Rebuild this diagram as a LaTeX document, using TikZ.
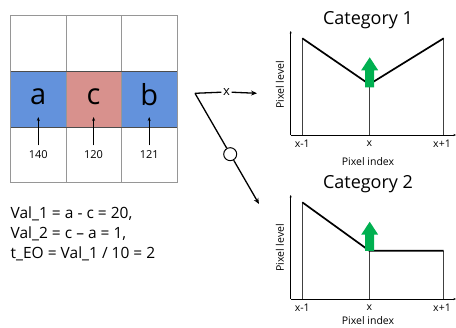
\documentclass[tikz,border=0pt]{standalone}
\usepackage{fontspec}
\setmainfont{Open Sans}
\usetikzlibrary{arrows.meta,calc}
\definecolor{cellblue}{RGB}{99,146,220}
\definecolor{cellred}{RGB}{216,145,141}
\definecolor{upgreen}{RGB}{0,176,80}
\definecolor{gridgray}{RGB}{150,150,150}

\tikzset{
  cellletter/.style={font=\fontsize{29}{29}\selectfont, inner sep=1pt},
  cellvalue/.style={font=\fontsize{11}{11}\selectfont, inner sep=1pt},
  cattitle/.style={font=\fontsize{18}{18}\selectfont},
  ticklabel/.style={font=\fontsize{10.5}{10.5}\selectfont},
  axislabel/.style={font=\fontsize{10.5}{10.5}\selectfont},
  axis/.style={line width=0.9pt, -{Stealth[length=2.5pt,width=2pt]}},
  guide/.style={line width=0.7pt, black!75},
  plotline/.style={line width=1.7pt},
  flow/.style={line width=1.3pt},
}
% green up arrow: centre x, bottom y, top y
\newcommand{\greenup}[3]{%
  \fill[upgreen] (#1-4.5,#2) -- (#1+4.5,#2) -- (#1+4.5,#3+13) -- (#1+8.5,#3+13)
    -- (#1,#3) -- (#1-8.5,#3+13) -- (#1-4.5,#3+13) -- cycle;}

\begin{document}
\begin{tikzpicture}[x=1pt,y=-1pt]
\useasboundingbox (0,0) rectangle (456,328);
% Cells
\fill[cellblue] (10.7,71.3) rectangle (66,127.3);
\fill[cellred] (66,71.3) rectangle (121.3,127.3);
\fill[cellblue] (121.3,71.3) rectangle (177,127.3);
\draw[gridgray, line width=0.8pt] (10.7,15.3) rectangle (177,182.7);
\foreach \gx in {66,121.3}
  \draw[gridgray, line width=0.8pt] (\gx,15.3) -- (\gx,182.7);
\draw[black!70, line width=0.8pt] (10.7,71.3) -- (177,71.3);
\draw[black!70, line width=0.8pt] (10.7,127.3) -- (177,127.3);
% Letters and values
\node[cellletter] (a) at (38.3,97) {a};
\node[cellletter] (c) at (93.6,97) {c};
\node[cellletter] (b) at (149.2,95) {b};
\node[cellvalue] (va) at (38.3,154.5) {140};
\node[cellvalue] (vc) at (93.6,154.5) {120};
\node[cellvalue] (vb) at (149.2,154.5) {121};
\foreach \v/\p in {va/a, vc/c, vb/b}
  \draw[line width=0.9pt, -{Stealth[length=4pt,width=3pt]}, shorten <=4pt]
    (\v.north) -- (\v.north |- 0,117);
% Equations
\node[anchor=north west, align=left, inner sep=0pt,
  font=\fontsize{15.5}{19.7}\selectfont] (eq) at (10.5,207)
  {Val\_1 = a - c = 20,\\ Val\_2 = c -- a = 1,\\ t\_EO = Val\_1 / 10 = 2};
% Split
\coordinate (split) at (195,93.3);
\coordinate (tip1) at (257,93.3);
\coordinate (tip2) at (259,204);
\node[font=\fontsize{13}{13}\selectfont, inner sep=1.5pt] (sx) at (226.5,92) {x};
\node[draw, circle, line width=1pt, minimum size=13pt, inner sep=0pt]
  (so) at ($(split)!0.55!(tip2)$) {};
\draw[flow] (split) -- (sx);
\draw[flow, -{Stealth[length=6pt,width=5pt]}] (sx) -- (tip1);
\draw[flow] (split) -- (so);
\draw[flow, -{Stealth[length=6pt,width=5pt]}] (so) -- (tip2);
% Category 1
\node[cattitle] (t1) at (368,20) {Category 1};
\draw[axis] (290.7,135) -- (456,135);
\draw[axis] (290.7,135) -- (290.7,31);
\draw[guide] (302.3,135) -- (302.3,38.3);
\draw[guide] (369.3,135) -- (369.3,84.3);
\draw[guide] (443.7,135) -- (443.7,38.3);
\draw[plotline] (302.3,38.3) -- (369.3,84.3) -- (443.7,38.3);
\greenup{369.7}{87.3}{57.3}
\node[ticklabel] (l1a) at (302.3,144) {x-1};
\node[ticklabel] (l1b) at (369.3,144) {x};
\node[ticklabel] (l1c) at (442,144) {x+1};
\node[axislabel] (ix1) at (368,161.7) {Pixel index};
\node[axislabel, rotate=90] (lv1) at (280,85) {Pixel level};
% Category 2
\node[cattitle] (t2) at (368,184) {Category 2};
\draw[axis] (290.7,299) -- (456,299);
\draw[axis] (290.7,299) -- (290.7,195);
\draw[guide] (302.3,299) -- (302.3,202.3);
\draw[guide] (369.3,299) -- (369.3,250.7);
\draw[guide] (443.7,299) -- (443.7,250.7);
\draw[plotline] (302.3,202.3) -- (369.3,250.7) -- (443.7,250.7);
\greenup{369.7}{251}{221.7}
\node[ticklabel] (l2a) at (302.3,307.7) {x-1};
\node[ticklabel] (l2b) at (369.3,307.7) {x};
\node[ticklabel] (l2c) at (442,307.7) {x+1};
\node[axislabel] (ix2) at (368,320.5) {Pixel index};
\node[axislabel, rotate=90] (lv2) at (280,248) {Pixel level};
\end{tikzpicture}
\end{document}
